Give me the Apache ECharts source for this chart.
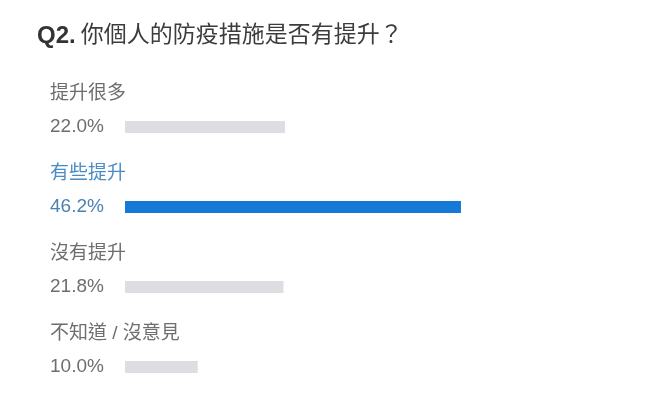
<!DOCTYPE html>
<html>
<head>
<meta charset="utf-8">
<script src="https://cdn.jsdelivr.net/npm/echarts@6/dist/echarts.min.js"></script>
<style>
html,body{margin:0;padding:0;background:#fff;}
#chart{width:656px;height:405px;}
</style>
</head>
<body>
<div id="chart"></div>
<script>
var titleQ = 'Q2.';
var titleText = '你個人的防疫措施是否有提升？';
var categories = ['提升很多', '有些提升', '沒有提升', '不知道 / 沒意見'];
var values = [22.0, 46.2, 21.8, 10.0];
var highlighted = [false, true, false, false];

var FONT = '"Liberation Sans", Arial, "Noto Sans CJK TC", sans-serif';
var grayBar = '#dcdee2', blueBar = '#1579d6';
var grayText = '#6e6e6e', blueText = '#4a8cc4', bluePct = '#4a82b4';

var chart = echarts.init(document.getElementById('chart'), null, {renderer: 'canvas'});
chart.setOption({
  backgroundColor: '#ffffff',
  animation: false,
  title: {
    left: 32, top: 19,
    text: '{q|' + titleQ + '} {t|' + titleText + '}',
    textStyle: {
      rich: {
        q: {fontSize: 24, fontWeight: 'bold', color: '#333', fontFamily: FONT},
        t: {fontSize: 23, fontWeight: 'normal', color: '#3c3c3c', fontFamily: FONT}
      }
    }
  },
  grid: {left: 125, top: 87, height: 320, width: 363.6, containLabel: false, outerBoundsMode: 'none'},
  xAxis: {
    type: 'value', min: 0, max: 50, show: false
  },
  yAxis: {
    type: 'category', inverse: true,
    data: categories.map(function (c, i) {
      return {value: c, textStyle: {color: highlighted[i] ? bluePct : grayText}};
    }),
    axisLine: {show: false}, axisTick: {show: false},
    axisLabel: {
      margin: 15, fontSize: 19, fontFamily: FONT,
      formatter: function (v, i) { return '{a|' + values[i].toFixed(1) + '%}'; },
      rich: {a: {width: 60, align: 'left', fontSize: 19, fontFamily: FONT}}
    }
  },
  series: [{
    type: 'bar',
    barWidth: 12,
    data: values.map(function (v, i) {
      return {
        value: v,
        itemStyle: {color: highlighted[i] ? blueBar : grayBar},
        label: {color: highlighted[i] ? blueText : grayText}
      };
    }),
    label: {
      show: true,
      position: [-75, -27],
      align: 'left', verticalAlign: 'middle',
      fontSize: 19, fontFamily: FONT,
      formatter: function (p) { return categories[p.dataIndex]; }
    }
  }]
});
</script>
</body>
</html>
